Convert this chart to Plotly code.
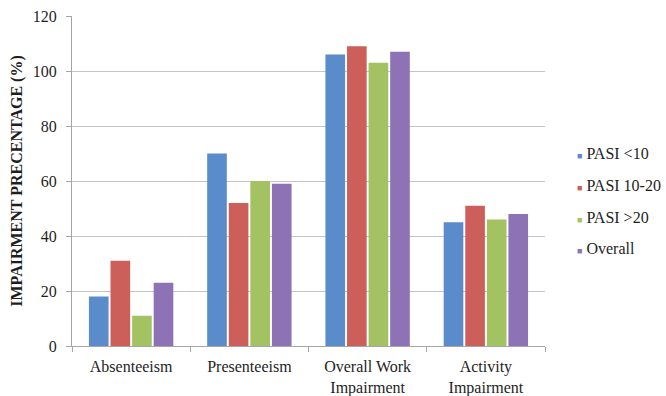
import plotly.graph_objects as go

categories = ["Absenteeism", "Presenteeism", "Overall Work<br>Impairment", "Activity<br>Impairment"]
series_names = ["PASI <10", "PASI 10-20", "PASI >20", "Overall"]
pasi_lt10 = [18, 70, 106, 45]
pasi_10_20 = [31, 52, 109, 51]
pasi_gt20 = [11, 60, 103, 46]
overall = [23, 59, 107, 48]
y_ticks = [0, 20, 40, 60, 80, 100, 120]

series_values = [pasi_lt10, pasi_10_20, pasi_gt20, overall]
colors = ["#5a8ccc", "#cd5f5b", "#a3c261", "#8d73b5"]
font_family = "Liberation Serif, DejaVu Serif, serif"
text_color = "#1e1e1e"

fig = go.Figure()
for name, vals, col in zip(series_names, series_values, colors):
    fig.add_trace(go.Bar(x=categories, y=vals, name=name, marker=dict(color=col, line=dict(width=0)),
                         showlegend=False))
    # legend entry: small coloured square set right against the label
    fig.add_trace(go.Scatter(x=[None], y=[None], mode="markers", legendgroup=name,
                             name=f"<span style='color:{col};font-size:9px'>■</span> {name}",
                             marker=dict(symbol="square", size=1, color="rgba(0,0,0,0)")))

fig.update_layout(
    width=666, height=396,
    margin=dict(l=72, r=121, t=16, b=50, autoexpand=False),
    paper_bgcolor="white", plot_bgcolor="white",
    barmode="group", bargap=0.27, bargroupgap=0.09,
    font=dict(family=font_family, size=16, color=text_color),
    legend=dict(x=0.983, y=0.44, xanchor="left", yanchor="middle",
                font=dict(family=font_family, size=16, color=text_color),
                tracegroupgap=8, itemwidth=30, bgcolor="rgba(0,0,0,0)"),
    showlegend=True,
)
fig.update_xaxes(showgrid=False, showline=True, linecolor="#a6a6a6", linewidth=1,
                 ticks="outside", tickson="boundaries", ticklen=5, tickcolor="#a6a6a6",
                 ticklabelstandoff=6, automargin=False,
                 tickfont=dict(family=font_family, size=16, color=text_color))
fig.update_yaxes(range=[0, 120], tickvals=y_ticks, showgrid=True, gridcolor="#c4c4c4", gridwidth=1,
                 showline=True, linecolor="#a6a6a6", ticks="outside", ticklen=5, tickcolor="#a6a6a6",
                 zeroline=False, ticklabelstandoff=6, automargin=False,
                 tickfont=dict(family=font_family, size=16, color=text_color),
                 title=dict(text="<b>IMPAIRMENT PRECENTAGE (%)</b>", standoff=6,
                            font=dict(family=font_family, size=16, color=text_color)))

fig.write_html("out.html")
